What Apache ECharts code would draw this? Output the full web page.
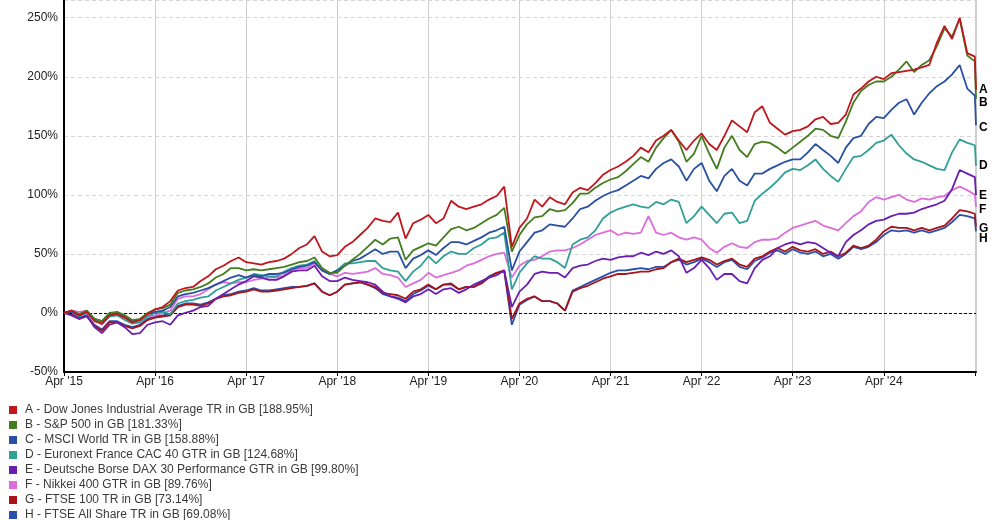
<!DOCTYPE html>
<html><head><meta charset="utf-8">
<script src="https://cdn.jsdelivr.net/npm/echarts@6/dist/echarts.min.js"></script>
<style>html,body{margin:0;padding:0;background:#fff}#c{width:1000px;height:520px}</style>
</head><body><div id="c"></div>
<script>
// month index 0 = Apr 2015 ... 120 = early Apr 2025 (before final drop)
const letters = ['A','B','C','D','E','F','G','H'];
const names = [
  'Dow Jones Industrial Average TR in GB',
  'S&P 500 in GB',
  'MSCI World TR in GB',
  'Euronext France CAC 40 GTR in GB',
  'Deutsche Borse DAX 30 Performance GTR in GB',
  'Nikkei 400 GTR in GB',
  'FTSE 100 TR in GB',
  'FTSE All Share TR in GB'
];
const finalReturns = [188.95, 181.33, 158.88, 124.68, 99.80, 89.76, 73.14, 69.08];
const yearLabels = ["Apr '15","Apr '16","Apr '17","Apr '18","Apr '19","Apr '20","Apr '21","Apr '22","Apr '23","Apr '24"];
const yTicks = [-50, 0, 50, 100, 150, 200, 250];

const seriesA = [0,2,-2,1,-7,-9,-2,-1,-4,-8,-6,-1,
 3,5,10,19,21,22,27,31,37,40,44,47,
 43,42,41,43,44,46,50,55,58,65,52,48,
 49,56,60,66,72,80,78,77,85,63,76,79,
 83,76,80,95,90,88,90,92,96,99,107,56,
 72,80,96,90,98,94,92,102,106,104,110,117,
 121,124,128,133,140,136,146,150,155,146,138,146,
 152,143,138,150,163,158,153,170,175,161,156,151,
 154,155,158,164,166,160,161,168,185,190,196,200,
 198,203,204,205,206,208,210,229,243,232,250,220,
 217];
const seriesB = [0,2,-1,2,-5,-7,0,1,-2,-6,-5,0,
 3,4,7,17,19,20,22,25,30,33,38,38,
 36,37,36,37,38,39,41,43,44,47,38,34,
 34,40,45,50,56,62,58,63,64,45,53,56,
 59,57,64,71,73,70,72,76,80,83,89,52,
 66,75,81,82,88,86,87,93,101,101,106,110,
 113,115,120,126,132,128,140,148,155,145,128,135,
 150,135,122,140,150,138,132,143,145,144,140,135,
 140,145,150,156,155,150,148,162,178,188,193,196,
 196,200,206,213,204,210,214,226,241,234,249,218,
 213];
const seriesC = [0,1,-2,1,-5,-7,-1,0,-3,-7,-6,-1,
 1,2,5,14,16,17,19,21,24,27,30,32,
 30,32,31,33,33,34,37,39,40,43,36,33,
 36,40,44,46,50,54,50,52,52,38,46,49,
 53,49,55,60,60,58,61,64,68,70,73,36,
 52,60,68,70,75,74,73,80,88,90,95,99,
 102,104,108,112,116,114,122,127,130,124,112,122,
 127,112,103,116,122,112,108,118,118,122,125,128,
 130,130,136,143,138,133,127,140,148,150,160,166,
 165,172,178,181,168,178,186,192,196,202,210,190,
 184];
const seriesD = [0,1,-3,0,-6,-9,-3,-2,-6,-9,-8,-3,
 0,1,-1,8,10,11,13,14,19,22,25,28,
 30,33,32,31,31,35,38,40,41,44,36,33,
 36,42,42,43,44,44,38,36,35,27,35,40,
 48,42,48,52,50,50,55,58,63,64,68,20,
 34,42,48,46,46,43,38,58,62,64,70,80,
 85,88,90,92,90,89,94,92,96,94,76,82,
 90,83,76,84,85,76,78,95,101,106,112,119,
 122,121,125,130,122,116,111,122,132,133,138,144,
 146,151,142,135,130,128,125,122,121,136,147,144,
 142];
const seriesE = [0,-2,-5,-2,-12,-17,-10,-8,-12,-18,-17,-10,
 -8,-7,-10,-2,0,2,5,6,12,16,20,24,
 27,31,30,28,28,31,35,36,36,40,31,27,
 27,30,28,27,26,24,18,14,12,9,14,16,
 20,16,20,21,17,20,24,27,30,32,36,5,
 18,24,33,35,34,34,30,38,40,41,44,46,
 45,47,48,48,51,49,52,50,53,48,34,38,
 45,38,28,33,33,27,25,38,45,48,55,58,
 60,58,60,59,55,51,48,60,66,70,75,78,
 79,82,84,84,85,88,90,92,95,105,121,118,
 115];
const seriesF = [0,2,1,2,-5,-10,-3,-1,-4,-8,-8,-3,
 -2,0,2,12,14,14,16,20,24,26,25,26,
 26,28,29,30,30,32,36,38,38,42,36,33,
 31,34,33,34,35,38,33,32,30,22,25,28,
 34,30,32,34,36,40,42,45,48,50,51,30,
 40,44,45,48,52,53,53,55,58,62,66,68,
 70,66,68,67,68,82,68,66,68,64,62,64,
 62,55,51,56,59,56,55,60,62,62,63,68,
 72,74,76,78,74,72,70,76,82,86,94,98,
 96,98,100,96,94,97,96,98,99,104,107,104,
 100];
const seriesG = [0,-1,-5,-3,-11,-15,-8,-8,-11,-13,-11,-6,
 -4,-3,-2,5,7,7,6,8,12,14,15,17,
 18,20,18,18,19,20,21,22,23,25,18,15,
 18,24,25,26,24,22,17,16,15,12,18,20,
 24,20,24,25,20,22,22,25,30,34,36,-5,
 8,12,14,10,10,8,2,18,21,23,26,29,
 31,33,33,34,35,35,37,38,43,46,43,45,
 47,45,41,44,46,41,39,46,48,52,55,52,
 56,53,52,54,50,52,48,51,57,55,57,62,
 69,73,72,72,70,72,70,72,74,80,87,86,
 84];
const seriesH = [0,-1,-4,-2,-10,-14,-7,-7,-10,-12,-10,-5,
 -3,-2,-1,6,8,8,7,9,12,15,16,18,
 19,21,19,19,20,21,22,22,23,25,18,15,
 18,24,25,26,24,21,16,14,13,10,16,19,
 23,20,24,24,20,22,22,26,31,34,35,-10,
 7,11,14,10,10,8,2,19,22,25,28,31,
 34,36,36,37,38,37,39,39,43,45,41,43,
 46,43,39,43,45,39,37,44,47,51,53,50,
 54,51,50,52,48,50,46,50,56,54,56,60,
 66,70,69,70,68,70,68,70,72,77,83,82,
 80];

const allSeries = [seriesA, seriesB, seriesC, seriesD, seriesE, seriesF, seriesG, seriesH];
const colors = ['#c0161c','#437d1f','#2a50a3','#31a096','#6a1fb0','#dc6ddc','#a8141a','#2950aa'];
const labelNudge = [0, 4, 2, 0, 1, 3, 2, 7];
const finalX = 120.15;

const legendNames = letters.map((l, i) => `${l} - ${names[i]} [${finalReturns[i].toFixed(2)}%]`);

const series = allSeries.map((vals, i) => {
  const data = vals.map((v, k) => [k, v]);
  data.push([finalX, finalReturns[i]]);
  const s = {
    name: legendNames[i],
    type: 'line',
    data: data,
    showSymbol: false,
    symbol: 'none',
    z: 10 - i,
    lineStyle: { color: colors[i], width: 1.8 },
    itemStyle: { color: colors[i] },
    emphasis: { disabled: true },
    endLabel: {
      show: true,
      formatter: letters[i],
      color: '#000',
      fontWeight: 'bold',
      fontSize: 12,
      fontFamily: 'Liberation Sans, Arial, sans-serif',
      distance: 3,
      offset: [0, labelNudge[i]]
    }
  };
  if (i === 0) {
    s.markLine = {
      silent: true,
      symbol: ['none', 'none'],
      label: { show: false },
      lineStyle: { color: '#000', type: [3, 2], width: 1.2 },
      data: [{ yAxis: 0 }]
    };
  }
  return s;
});

const chart = echarts.init(document.getElementById('c'));
chart.setOption({
  animation: false,
  backgroundColor: '#fff',
  grid: { left: 64, right: 24, top: 0, bottom: 148, containLabel: false },
  legend: {
    orient: 'vertical', left: 9, top: 403, height: 200, padding: 0,
    itemWidth: 8, itemHeight: 8, itemGap: 1, icon: 'rect',
    selectedMode: false,
    data: legendNames,
    textStyle: { fontSize: 12, color: '#3a3a3a', fontFamily: 'Liberation Sans, Arial, sans-serif', lineHeight: 14, padding: [0, 0, 0, 3] }
  },
  xAxis: {
    type: 'value', min: 0, max: finalX, interval: 12,
    axisLine: { show: true, onZero: false, lineStyle: { color: '#000', width: 2 } },
    axisTick: { show: true, length: 4, lineStyle: { color: '#000' } },
    axisLabel: {
      margin: 4, fontSize: 12, color: '#222', fontFamily: 'Liberation Sans, Arial, sans-serif',
      showMaxLabel: false,
      formatter: v => (v % 12 === 0 && v / 12 < yearLabels.length) ? yearLabels[v / 12] : ''
    },
    splitLine: { show: true, lineStyle: { color: '#cfcfcf', width: 1 } }
  },
  yAxis: {
    type: 'value', min: -50, max: 265, interval: 50,
    axisLine: { show: true, onZero: false, lineStyle: { color: '#000', width: 2 } },
    axisTick: { show: false },
    axisLabel: {
      margin: 6, fontSize: 12, color: '#222', fontFamily: 'Liberation Sans, Arial, sans-serif',
      showMaxLabel: false,
      formatter: v => yTicks.includes(v) ? v + '%' : ''
    },
    splitLine: { show: true, lineStyle: { color: '#d6d6d6', type: [4, 3], width: 1 } }
  },
  series: series
});
</script>
</body></html>
